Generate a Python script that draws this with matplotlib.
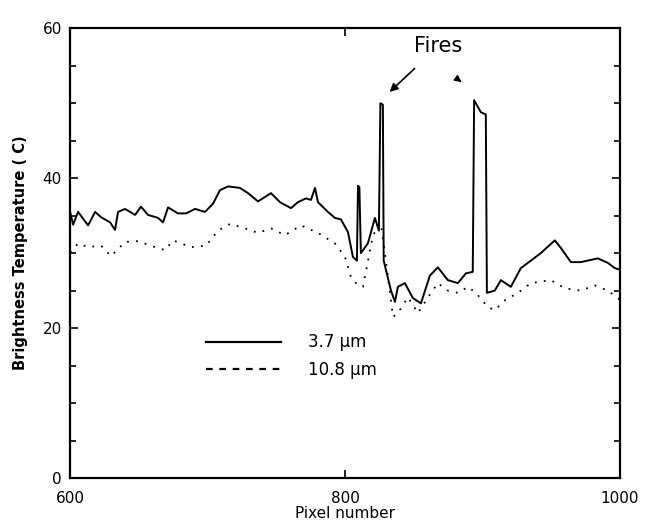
import matplotlib.pyplot as plt
from matplotlib.lines import Line2D
from matplotlib.ticker import MultipleLocator

# ---------- DATA ----------
px_37 = [600, 602.2, 605.8, 613.1, 618.2, 622.5, 629.1, 632.7, 634.9, 640,
         647.3, 651.6, 656.7, 664, 667.6, 671.3, 678.5, 684.4, 690.9, 698.2,
         704, 709.1, 714.9, 723.6, 729.5, 736.7, 746.2, 752.7, 760.7, 765.8,
         771.6, 775.3, 778.2, 780.4, 787.6, 792.7, 797.1, 802.2, 805.8, 808.7,
         809.5, 810.5, 811.6, 816.7, 821.8, 824.7, 825.8, 827.6, 828.2, 833.5,
         836.4, 838.5, 843.6, 849.5, 855.3, 861.8, 867.6, 874.9, 882.2, 888,
         893, 894, 898.9, 902.5, 903.3, 909, 913.5, 920.7, 928, 935.3,
         942.5, 952.7, 957.1, 964.4, 971.6, 984, 991.3, 996.4, 1000]
t_37 = [35.5, 33.8, 35.5, 33.7, 35.5, 34.8, 34.1, 33.1, 35.5, 35.9,
        35.1, 36.2, 35.1, 34.7, 34.1, 36.1, 35.3, 35.3, 35.9, 35.5,
        36.6, 38.4, 38.9, 38.7, 38.0, 36.9, 38.0, 36.8, 36.0, 36.8,
        37.3, 37.1, 38.7, 36.8, 35.5, 34.7, 34.5, 32.8, 29.5, 29.0,
        39.0, 38.8, 30.0, 31.3, 34.7, 33.0, 50.0, 49.8, 29.0, 25.0,
        23.5, 25.5, 26.0, 24.0, 23.3, 27.0, 28.1, 26.4, 26.0, 27.3,
        27.5, 50.4, 48.8, 48.5, 24.7, 25.0, 26.4, 25.5, 28.0, 29.0,
        30.0, 31.7, 30.7, 28.8, 28.8, 29.3, 28.7, 28.0, 27.8]

px_108 = [600, 605.8, 613.1, 622.5, 629.8, 640, 649.5, 661.8, 669.1, 674.9,
          688, 698.9, 707.6, 716.4, 727.3, 736.7, 746.2, 756.4, 768, 780.4,
          792.7, 800, 804.4, 808, 813.1, 820.4, 826.2, 829.8, 833.5, 834.9,
          838.5, 845.8, 853.1, 860.4, 867.6, 874.9, 882.2, 889.5, 895.3, 904,
          909.1, 916.4, 925.8, 935.3, 949.8, 960, 971.6, 981.8, 991.3, 1000]
t_108 = [30.1, 31.3, 30.8, 31.0, 29.6, 31.5, 31.6, 30.8, 30.4, 31.7,
         30.8, 31.0, 33.0, 33.9, 33.3, 32.7, 33.3, 32.4, 33.7, 32.7,
         31.3, 29.5, 26.8, 26.0, 25.5, 32.4, 34.0, 29.0, 23.7, 21.5,
         22.0, 24.1, 22.0, 24.1, 26.0, 25.0, 24.7, 25.5, 24.7, 22.8,
         22.4, 23.7, 24.7, 26.0, 26.4, 25.3, 25.0, 25.7, 25.0, 23.8]

x_ticks = [600, 800, 1000]
y_ticks = [0, 20, 40, 60]
labels = ["3.7 \u03bcm", "10.8 \u03bcm"]
# ---------------------------------------------------------


def main():
    fig = plt.figure(figsize=(6.49, 5.23), dpi=100)
    ax = fig.add_axes([0.108, 0.086, 0.847, 0.86])

    ax.plot(px_37, t_37, color='black', linestyle='-', linewidth=1.4)
    ax.plot(px_108, t_108, color='black', linestyle=(0, (1, 4)), linewidth=1.3)

    ax.set_xlim(600, 1000)
    ax.set_ylim(0, 60)
    ax.set_xticks(x_ticks)
    ax.set_yticks(y_ticks)
    ax.yaxis.set_minor_locator(MultipleLocator(5))
    ax.tick_params(which='both', direction='in', right=True, top=True,
                   labelsize=11, width=1.2)
    ax.tick_params(which='major', length=6)
    ax.tick_params(which='minor', length=4)
    ax.tick_params(axis='x', pad=9)
    ax.tick_params(axis='y', pad=6)
    for sp in ax.spines.values():
        sp.set_linewidth(1.6)

    ax.set_xlabel('Pixel number', fontsize=11, labelpad=0)
    ax.set_ylabel('Brightness Temperature ( C)', fontsize=10.5,
                  fontweight='bold', labelpad=10)

    # legend: the scan draws the 10.8 um entry as dashes
    handles = [Line2D([], [], color='black', linestyle='-', linewidth=1.6),
               Line2D([], [], color='black', linestyle=(0, (3, 3)), linewidth=1.6)]
    ax.legend(handles, labels, frameon=False, fontsize=12,
              loc='upper left', bbox_to_anchor=(0.22, 0.355),
              handlelength=4.5, handletextpad=1.6, labelspacing=0.55)

    ax.annotate('Fires', xy=(832.5, 51.5), xytext=(868, 57.6),
                fontsize=15, ha='center', va='center',
                arrowprops=dict(arrowstyle='-|>', color='black', lw=1.2,
                                shrinkA=10, shrinkB=0, mutation_scale=12))
    ax.annotate('', xy=(886.5, 52.6), xytext=(882, 53.2),
                arrowprops=dict(arrowstyle='-|>', color='black', lw=1.0,
                                mutation_scale=10))

    fig.savefig('out.png', dpi=100)


if __name__ == "__main__":
    main()
